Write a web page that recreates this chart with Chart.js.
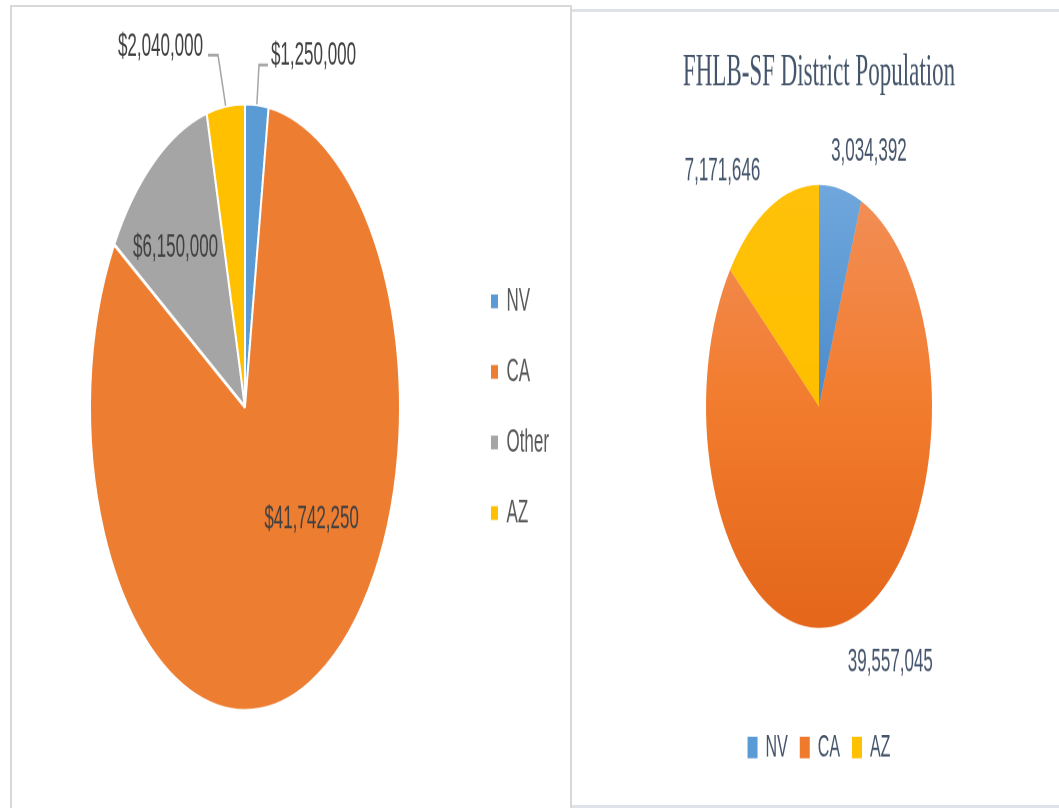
<!DOCTYPE html>
<html>
<head>
<meta charset="utf-8">
<script src="https://cdn.jsdelivr.net/npm/chart.js@4.4.1/dist/chart.umd.min.js"></script>
<style>
  html, body { margin: 0; padding: 0; background: #ffffff; width: 1059px; height: 808px; overflow: hidden; }
  .frame { position: absolute; box-sizing: border-box; }
  #leftFrame { left: 10px; top: 5px; width: 562px; height: 820px; border: 2px solid #d9d9d9; }
  #rightTop { left: 572px; top: 9px; width: 487px; height: 3px; background: #dfe3e9; }
  #rightBottom { left: 572px; top: 805px; width: 487px; height: 3px; background: #dfe3e9; }
  .stretch { position: absolute; top: 0; height: 412px; transform: scaleY(1.96); transform-origin: 0 0; }
  #leftWrap { left: 0; width: 572px; }
  #rightWrap { left: 572px; width: 487px; }
</style>
</head>
<body>
<div class="frame" id="leftFrame"></div>
<div class="frame" id="rightTop"></div>
<div class="frame" id="rightBottom"></div>
<div class="stretch" id="leftWrap"><canvas id="fundingChart"></canvas></div>
<div class="stretch" id="rightWrap"><canvas id="populationChart"></canvas></div>
<script>
// ---- data ----
const fundingCategories = ['NV', 'CA', 'Other', 'AZ'];
const fundingValues = [1250000, 41742250, 6150000, 2040000];

const populationTitle = 'FHLB-SF District Population';
const populationCategories = ['NV', 'CA', 'AZ'];
const populationValues = [3034392, 39557045, 7171646];

// ---- styles ----
const fundingColors = ['#5b9bd5', '#ed7d31', '#a5a5a5', '#ffc000'];
const populationSolid = ['#5b9bd5', '#ef7a2c', '#ffc000'];
const populationStops = [
  ['#70a8dd', '#4b8bcb', '#3a7abb'],
  ['#f28f58', '#f27c2e', '#e4661a'],
  ['#ffc20a', '#ffbf00', '#fdb900']
];
const LEFT_RADIUS = 155;
const RIGHT_RADIUS = 113;

const fmt = (v) => v.toLocaleString('en-US');

// Label placement (polar tweaks relative to each slice's mid angle)
const fundingLabelPlacement = [
  { leader: [2.1, -20, 9], gap: 3, textDy: -4.6, align: 'left' },
  { dr: 0.565, da: -25.1 },
  { dr: 0.69, da: -4.5 },
  { leader: [-7.6, -25.8, -10], gap: 5, textDy: -4.1, align: 'right' }
];
const populationLabelPlacement = [
  { dr: 1.234, da: 10 },
  { dr: 1.316, da: -13.7 },
  { dr: 1.362, da: -12.9 }
];

const sliceLabels = {
  id: 'sliceLabels',
  afterDatasetsDraw(chart, args, opts) {
    const meta = chart.getDatasetMeta(0);
    const values = chart.data.datasets[0].data;
    const ctx = chart.ctx;
    ctx.save();
    ctx.font = opts.font;
    ctx.textBaseline = 'middle';
    meta.data.forEach((arc, i) => {
      const p = opts.place[i];
      const { x, y, startAngle, endAngle, outerRadius } =
        arc.getProps(['x', 'y', 'startAngle', 'endAngle', 'outerRadius'], true);
      const mid = (startAngle + endAngle) / 2;
      const text = opts.prefix + fmt(values[i]);
      if (p.leader) {
        const ex = x + Math.cos(mid) * outerRadius;
        const ey = y + Math.sin(mid) * outerRadius;
        const bx = ex + p.leader[0], by = ey + p.leader[1];
        const tx = bx + p.leader[2];
        ctx.strokeStyle = opts.leaderColor;
        ctx.lineWidth = 1.5;
        ctx.beginPath();
        ctx.moveTo(ex, ey);
        ctx.lineTo(bx, by);
        ctx.lineTo(tx, by);
        ctx.stroke();
        ctx.fillStyle = opts.color;
        ctx.textAlign = p.align;
        const dir = p.align === 'left' ? 1 : -1;
        ctx.fillText(text, tx + dir * p.gap, by + p.textDy);
      } else {
        const a = mid + p.da * Math.PI / 180;
        const d = outerRadius * p.dr;
        ctx.fillStyle = opts.color;
        ctx.textAlign = 'center';
        ctx.fillText(text, x + Math.cos(a) * d, y + Math.sin(a) * d);
      }
    });
    ctx.restore();
  }
};

function legendItems(labels, colors, fontColor) {
  return () => labels.map((t, i) => ({
    text: t, fillStyle: colors[i], strokeStyle: colors[i], lineWidth: 0,
    hidden: false, index: i, fontColor: fontColor
  }));
}

function populationFill(context) {
  const i = context.dataIndex;
  const chart = context.chart;
  const area = chart.chartArea;
  const stops = populationStops[i];
  if (!area) return populationSolid[i];
  const cy = (area.top + area.bottom) / 2;
  const g = chart.ctx.createLinearGradient(0, cy - RIGHT_RADIUS, 0, cy + RIGHT_RADIUS);
  g.addColorStop(0, stops[0]);
  g.addColorStop(0.5, stops[1]);
  g.addColorStop(1, stops[2]);
  return g;
}

new Chart(document.getElementById('fundingChart'), {
  type: 'pie',
  data: {
    labels: fundingCategories,
    datasets: [{
      data: fundingValues,
      backgroundColor: fundingColors,
      borderColor: '#ffffff',
      borderWidth: 2,
      radius: LEFT_RADIUS,
      hoverOffset: 0
    }]
  },
  options: {
    responsive: true,
    maintainAspectRatio: false,
    animation: false,
    devicePixelRatio: 2,
    events: [],
    layout: { padding: { left: 18, right: 13, top: 3.4, bottom: 0 } },
    plugins: {
      legend: {
        position: 'right',
        align: 'center',
        labels: {
          boxWidth: 7, boxHeight: 7, padding: 19,
          color: '#595959',
          font: { family: 'Liberation Sans', size: 17 },
          generateLabels: legendItems(fundingCategories, fundingColors, '#595959')
        }
      },
      tooltip: { enabled: false },
      sliceLabels: {
        font: '17px "Liberation Sans"',
        color: '#404040',
        leaderColor: '#a6a6a6',
        prefix: '$',
        place: fundingLabelPlacement
      }
    }
  },
  plugins: [sliceLabels]
});

new Chart(document.getElementById('populationChart'), {
  type: 'pie',
  data: {
    labels: populationCategories,
    datasets: [{
      data: populationValues,
      backgroundColor: populationFill,
      borderWidth: 0,
      radius: RIGHT_RADIUS,
      hoverOffset: 0
    }]
  },
  options: {
    responsive: true,
    maintainAspectRatio: false,
    animation: false,
    devicePixelRatio: 2,
    events: [],
    layout: { padding: { left: 7, right: 0, top: 0, bottom: 12.6 } },
    plugins: {
      title: {
        display: true,
        text: populationTitle,
        color: '#44546a',
        font: { family: 'Liberation Serif', size: 23, weight: 'normal' },
        padding: { top: 23.7, bottom: 2.1 }
      },
      legend: {
        position: 'bottom',
        align: 'center',
        labels: {
          boxWidth: 10, boxHeight: 11, padding: 12,
          color: '#44546a',
          font: { family: 'Liberation Sans', size: 16 },
          generateLabels: legendItems(populationCategories, populationSolid, '#44546a')
        }
      },
      tooltip: { enabled: false },
      sliceLabels: {
        font: '17px "Liberation Sans"',
        color: '#44546a',
        leaderColor: '#a6a6a6',
        prefix: '',
        place: populationLabelPlacement
      }
    }
  },
  plugins: [sliceLabels]
});
</script>
</body>
</html>
